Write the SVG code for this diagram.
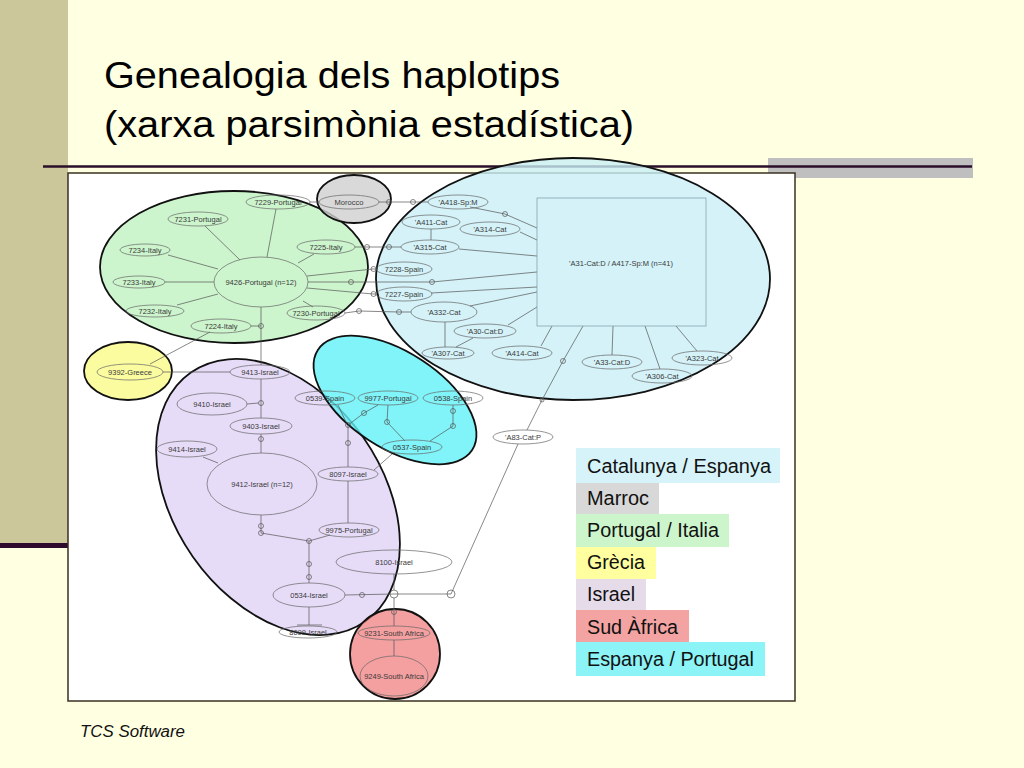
<svg xmlns="http://www.w3.org/2000/svg" width="1024" height="768" viewBox="0 0 1024 768">
<style>
.cl{stroke:#111;stroke-width:1.8;fill-opacity:0.8}
.nd ellipse,.nd rect{fill:none;stroke:#666;stroke-width:0.7}
.nd text{font-family:"Liberation Sans",Arial,sans-serif;font-size:7.5px;fill:#3a3a3a;text-anchor:middle}
.cn polyline,.cn line{stroke:#555;stroke-width:0.7;fill:none}
.cn circle{fill:none;stroke:#555;stroke-width:0.7}
.lg text{font-family:"Liberation Sans",Arial,sans-serif;font-size:19.5px;fill:#111}
.ttl{font-family:"Liberation Sans",Arial,sans-serif;font-size:36px;fill:#000}
</style>
<rect x="0" y="0" width="1024" height="768" fill="#ffffe1"/>
<rect x="0" y="0" width="68" height="544" fill="#cbc79a"/>
<rect x="0" y="543" width="68" height="5" fill="#2e0a2e"/>
<text class="ttl" x="104" y="88" textLength="456" lengthAdjust="spacingAndGlyphs">Genealogia dels haplotips</text>
<text class="ttl" x="104" y="137" textLength="530" lengthAdjust="spacingAndGlyphs">(xarxa parsimònia estadística)</text>
<rect x="768" y="158" width="205" height="20" fill="#bfbfbf"/>
<rect x="68" y="173" width="727" height="528" fill="#fff" stroke="#3a3020" stroke-width="1.5"/>
<line x1="43" y1="166.5" x2="972" y2="166.5" stroke="#2a0e2a" stroke-width="2.5"/>

<g id="clusters">
<ellipse class="cl" cx="573" cy="279" rx="197" ry="121" fill="#c9eff6"/>
<ellipse class="cl" cx="234" cy="267" rx="134" ry="76" fill="#c0f3c0"/>
<ellipse class="cl" cx="354" cy="199" rx="37" ry="24" fill="#cfcfcf"/>
<ellipse class="cl" cx="128" cy="371" rx="44" ry="29" fill="#fafa88"/>
<ellipse class="cl" cx="278" cy="497" rx="152" ry="104" transform="rotate(55 278 497)" fill="#e0d3f6"/>
<ellipse class="cl" cx="395" cy="400" rx="92" ry="48" transform="rotate(33 395 400)" fill="#60f1f6"/>
<ellipse class="cl" cx="395" cy="654" rx="45" ry="45" fill="#f18888"/>
</g>

<g class="cn" id="connectors">
<line x1="267" y1="257" x2="276" y2="209"/>
<line x1="240" y1="260" x2="205" y2="226"/>
<line x1="218" y1="269" x2="168" y2="255"/>
<line x1="298" y1="263" x2="314" y2="254"/>
<line x1="214" y1="282" x2="165" y2="282"/>
<line x1="218" y1="294" x2="177" y2="305"/>
<line x1="303" y1="301" x2="313" y2="307"/>
<line x1="261" y1="307" x2="261" y2="365"/>
<line x1="251" y1="326" x2="261" y2="326"/><circle cx="261" cy="326" r="2.5"/>
<line x1="210" y1="332" x2="150" y2="364"/>
<line x1="310" y1="202" x2="319" y2="202"/>
<polyline points="379,202 428,202"/><circle cx="389" cy="202" r="2.5"/><circle cx="413" cy="202" r="2.5"/>
<polyline points="355,247 401,247"/><circle cx="367" cy="247" r="2.5"/><circle cx="389" cy="247" r="2.5"/>
<polyline points="307,276 373,269 376,269"/><circle cx="373.5" cy="269" r="2.5"/>
<polyline points="307,288 373,294 376,294"/><circle cx="373.5" cy="294" r="2.5"/>
<polyline points="308,282 432,282 537,272"/><circle cx="351" cy="282" r="2.5"/><circle cx="432" cy="282" r="2.5"/>
<polyline points="345,313 359,311 399,312 411,312"/><circle cx="359" cy="311" r="2.5"/><circle cx="399" cy="312" r="2.5"/>
<polyline points="470,207 505,214 537,228"/><circle cx="505" cy="214" r="2.5"/>
<line x1="520" y1="232" x2="537" y2="240"/>
<line x1="431" y1="229" x2="431" y2="240"/>
<line x1="459" y1="249" x2="537" y2="256"/>
<line x1="431" y1="293" x2="537" y2="287"/>
<line x1="470" y1="306" x2="537" y2="292"/>
<line x1="445" y1="322" x2="445" y2="347"/>
<line x1="508" y1="325" x2="537" y2="307"/>
<line x1="473" y1="338" x2="456" y2="347"/>
<line x1="541" y1="346" x2="552" y2="326"/>
<line x1="613" y1="326" x2="612" y2="355"/>
<line x1="645" y1="326" x2="660" y2="369"/>
<line x1="676" y1="326" x2="697" y2="351"/>
<polyline points="583,326 563,361 542,400 527,430"/><circle cx="563" cy="361" r="2.5"/><circle cx="542" cy="400" r="2"/>
<line x1="518" y1="444" x2="451" y2="594"/>
<polyline points="451,594 394,594 345,595"/><circle cx="451" cy="594" r="4"/><circle cx="394" cy="594" r="4"/><circle cx="362" cy="595" r="2.5"/>
<line x1="394" y1="574" x2="394" y2="590"/>
<polyline points="394,598 394,626"/><circle cx="394" cy="612" r="2.5"/>
<line x1="394" y1="640" x2="394" y2="656"/>
<line x1="309" y1="607" x2="309" y2="625"/><line x1="297" y1="625" x2="322" y2="625" stroke-width="1.4"/>
<polyline points="309,583 309,541"/><circle cx="309" cy="577" r="2.5"/><circle cx="309" cy="564" r="2.5"/><circle cx="309" cy="541" r="2.5"/>
<polyline points="309,541 261,533 261,515"/><circle cx="261" cy="533" r="2.5"/><circle cx="261" cy="526" r="2.5"/>
<line x1="330" y1="535" x2="309" y2="541"/>
<line x1="348" y1="523" x2="348" y2="481"/>
<polyline points="348,467 348,425"/><circle cx="348" cy="443" r="2.5"/><circle cx="348" cy="425" r="2.5"/>
<polyline points="348,425 364,413 378,405"/><circle cx="364" cy="413" r="2.5"/>
<line x1="338" y1="405" x2="346" y2="422"/>
<polyline points="388,405 387,422 405,441"/><circle cx="387" cy="422" r="2.5"/>
<polyline points="453,405 453,426 430,441"/><circle cx="453" cy="411" r="2.5"/><circle cx="453" cy="426" r="2.5"/>
<line x1="392" y1="454" x2="374" y2="470"/>
<line x1="163" y1="372" x2="230" y2="372"/>
<polyline points="261,379 261,418"/><circle cx="261" cy="403" r="2.5"/>
<line x1="247" y1="404" x2="258.5" y2="403" stroke-width="1.6"/>
<polyline points="261,434 261,453"/><circle cx="261" cy="439" r="2.5"/>
<line x1="203" y1="457" x2="218" y2="463"/>
</g>

<g class="nd" id="n7229"><ellipse cx="278" cy="202" rx="32" ry="7"/><text x="278" y="204.5">7229-Portugal</text></g>
<g class="nd" id="n7231"><ellipse cx="198" cy="219" rx="30" ry="7"/><text x="198" y="221.5">7231-Portugal</text></g>
<g class="nd" id="n7234"><ellipse cx="145" cy="250" rx="25" ry="6"/><text x="145" y="252.5">7234-Italy</text></g>
<g class="nd" id="n7225"><ellipse cx="326" cy="247" rx="29" ry="7"/><text x="326" y="249.5">7225-Italy</text></g>
<g class="nd" id="n7233"><ellipse cx="139" cy="282" rx="26" ry="6"/><text x="139" y="284.5">7233-Italy</text></g>
<g class="nd" id="n9426"><ellipse cx="261" cy="282" rx="47" ry="25"/><text x="261" y="284.5">9426-Portugal  (n=12)</text></g>
<g class="nd" id="n7232"><ellipse cx="155" cy="311" rx="29" ry="6"/><text x="155" y="313.5">7232-Italy</text></g>
<g class="nd" id="n7230"><ellipse cx="316" cy="313" rx="29" ry="7"/><text x="316" y="315.5">7230-Portugal</text></g>
<g class="nd" id="n7224"><ellipse cx="221" cy="326" rx="30" ry="7"/><text x="221" y="328.5">7224-Italy</text></g>
<g class="nd" id="nMorocco"><ellipse cx="349" cy="202" rx="30" ry="7"/><text x="349" y="204.5">Morocco</text></g>
<g class="nd" id="nA418"><ellipse cx="458" cy="202" rx="30" ry="7"/><text x="458" y="204.5">'A418-Sp:M</text></g>
<g class="nd" id="nA411"><ellipse cx="431" cy="222" rx="29" ry="7"/><text x="431" y="224.5">'A411-Cat</text></g>
<g class="nd" id="nA314"><ellipse cx="490" cy="229" rx="30" ry="7"/><text x="490" y="231.5">'A314-Cat</text></g>
<g class="nd" id="nA315"><ellipse cx="430" cy="247" rx="29" ry="7"/><text x="430" y="249.5">'A315-Cat</text></g>
<g class="nd" id="n7228"><ellipse cx="404" cy="269" rx="28" ry="7"/><text x="404" y="271.5">7228-Spain</text></g>
<g class="nd" id="n7227"><ellipse cx="404" cy="294" rx="28" ry="7"/><text x="404" y="296.5">7227-Spain</text></g>
<g class="nd" id="nA332"><ellipse cx="444" cy="312" rx="33" ry="10"/><text x="444" y="314.5">'A332-Cat</text></g>
<g class="nd" id="nA30"><ellipse cx="485" cy="331" rx="31" ry="7"/><text x="485" y="333.5">'A30-Cat:D</text></g>
<g class="nd" id="nA307"><ellipse cx="448" cy="353" rx="26" ry="6"/><text x="448" y="355.5">'A307-Cat</text></g>
<g class="nd" id="nA414"><ellipse cx="522" cy="353" rx="30" ry="7"/><text x="522" y="355.5">'A414-Cat</text></g>
<g class="nd" id="nA31"><rect x="537" y="198" width="169" height="128" style="stroke:#7a9aa6"/><text x="621" y="265.5">'A31-Cat:D / A417-Sp:M  (n=41)</text></g>
<g class="nd" id="nA33"><ellipse cx="612" cy="362" rx="30" ry="7"/><text x="612" y="364.5">'A33-Cat:D</text></g>
<g class="nd" id="nA306"><ellipse cx="662" cy="376" rx="30" ry="7"/><text x="662" y="378.5">'A306-Cat</text></g>
<g class="nd" id="nA323"><ellipse cx="702" cy="358" rx="30" ry="7"/><text x="702" y="360.5">'A323-Cat</text></g>
<g class="nd" id="nA83"><ellipse cx="523" cy="437" rx="30" ry="7"/><text x="523" y="439.5">'A83-Cat:P</text></g>
<g class="nd" id="n0539"><ellipse cx="325" cy="398" rx="30" ry="7"/><text x="325" y="400.5">0539-Spain</text></g>
<g class="nd" id="n9977"><ellipse cx="388" cy="398" rx="30" ry="7"/><text x="388" y="400.5">9977-Portugal</text></g>
<g class="nd" id="n0538"><ellipse cx="453" cy="398" rx="30" ry="7"/><text x="453" y="400.5">0538-Spain</text></g>
<g class="nd" id="n0537"><ellipse cx="412" cy="447" rx="30" ry="7"/><text x="412" y="449.5">0537-Spain</text></g>
<g class="nd" id="n9392"><ellipse cx="130" cy="372" rx="33" ry="8"/><text x="130" y="374.5">9392-Greece</text></g>
<g class="nd" id="n9413"><ellipse cx="260" cy="372" rx="30" ry="7"/><text x="260" y="374.5">9413-Israel</text></g>
<g class="nd" id="n9410"><ellipse cx="212" cy="404" rx="35" ry="11"/><text x="212" y="406.5">9410-Israel</text></g>
<g class="nd" id="n9403"><ellipse cx="261" cy="426" rx="31" ry="8"/><text x="261" y="428.5">9403-Israel</text></g>
<g class="nd" id="n9414"><ellipse cx="187" cy="449" rx="30" ry="8"/><text x="187" y="451.5">9414-Israel</text></g>
<g class="nd" id="n9412"><ellipse cx="262" cy="484" rx="55" ry="31"/><text x="262" y="486.5">9412-Israel  (n=12)</text></g>
<g class="nd" id="n8097"><ellipse cx="348" cy="474" rx="30" ry="7"/><text x="348" y="476.5">8097-Israel</text></g>
<g class="nd" id="n9975"><ellipse cx="349" cy="530" rx="30" ry="7"/><text x="349" y="532.5">9975-Portugal</text></g>
<g class="nd" id="n8100"><ellipse cx="394" cy="562" rx="58" ry="12"/><text x="394" y="564.5">8100-Israel</text></g>
<g class="nd" id="n0534"><ellipse cx="309" cy="595" rx="36" ry="12"/><text x="309" y="597.5">0534-Israel</text></g>
<g class="nd" id="n8099"><ellipse cx="308" cy="632" rx="29" ry="6"/><text x="308" y="634.5">8099-Israel</text></g>
<g class="nd" id="n9231"><ellipse cx="394" cy="633" rx="36" ry="7"/><text x="394" y="635.5">9231-South Africa</text></g>
<g class="nd" id="n9249"><ellipse cx="394" cy="676" rx="34" ry="20"/><text x="394" y="678.5">9249-South Africa</text></g>

<g class="lg" id="legend">
<rect x="576" y="448" width="204" height="35" fill="#d6f3f9"/>
<rect x="576" y="483" width="83" height="31" fill="#d8d8d8"/>
<rect x="576" y="514" width="153" height="33" fill="#ccf5cc"/>
<rect x="576" y="547" width="80" height="32" fill="#ffff9f"/>
<rect x="576" y="579" width="70" height="31" fill="#e5dbe9"/>
<rect x="576" y="610" width="113" height="32" fill="#f4a3a3"/>
<rect x="576" y="642" width="189" height="34" fill="#8cf3f7"/>
<text x="587" y="473" textLength="184" lengthAdjust="spacingAndGlyphs">Catalunya / Espanya</text>
<text x="587" y="505" textLength="62" lengthAdjust="spacingAndGlyphs">Marroc</text>
<text x="587" y="537" textLength="132" lengthAdjust="spacingAndGlyphs">Portugal / Italia</text>
<text x="587" y="569" textLength="58" lengthAdjust="spacingAndGlyphs">Grècia</text>
<text x="587" y="601" textLength="48" lengthAdjust="spacingAndGlyphs">Israel</text>
<text x="587" y="634" textLength="91" lengthAdjust="spacingAndGlyphs">Sud Àfrica</text>
<text x="587" y="666" textLength="167" lengthAdjust="spacingAndGlyphs">Espanya / Portugal</text>
</g>
<text x="80" y="737" font-family="'Liberation Sans',Arial,sans-serif" font-size="16" font-style="italic" fill="#111" textLength="105" lengthAdjust="spacingAndGlyphs">TCS Software</text>
</svg>
